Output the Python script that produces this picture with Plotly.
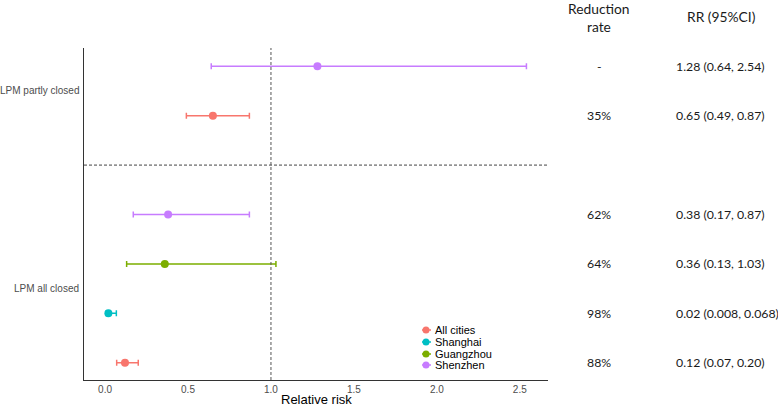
import plotly.graph_objects as go

cities = ["All cities", "Shanghai", "Guangzhou", "Shenzhen"]
colors = ["#F8766D", "#00BFC4", "#7CAE00", "#C77CFF"]

# rows: (city, y-position, rr, lo, hi, reduction)
row_city = ["Shenzhen", "All cities", "Shenzhen", "Guangzhou", "Shanghai", "All cities"]
row_y = [7, 6, 4, 3, 2, 1]
rr = [1.28, 0.65, 0.38, 0.36, 0.02, 0.12]
lo = [0.64, 0.49, 0.17, 0.13, 0.008, 0.07]
hi = [2.54, 0.87, 0.87, 1.03, 0.068, 0.20]
reduction = ["-", "35%", "62%", "64%", "98%", "88%"]
rr_text = ["1.28 (0.64, 2.54)", "0.65 (0.49, 0.87)", "0.38 (0.17, 0.87)",
           "0.36 (0.13, 1.03)", "0.02 (0.008, 0.068)", "0.12 (0.07, 0.20)"]
group_labels = ["LPM partly closed", "LPM all closed"]
group_y = [6.5, 2.5]
sep_y = 5
ref_x = 1.0
x_ticks = [0.0, 0.5, 1.0, 1.5, 2.0, 2.5]
x_tick_text = ["0.0", "0.5", "1.0", "1.5", "2.0", "2.5"]

# page layout (in page pixels); body margin removed by post_script
W, H = 778, 407
PL, PR, PT, PB = 84, 548, 48, 380   # plot area edges on the page
L, T = PL, PT
R = W - PR
B = H - PB
pw = W - L - R
ph = H - T - B

def px(x):
    return (x - PL) / pw

def py(y):
    return (PB - y) / ph

fig = go.Figure()
for c, col in zip(cities, colors):
    idx = [i for i, rc in enumerate(row_city) if rc == c]
    fig.add_trace(go.Scatter(
        x=[rr[i] for i in idx], y=[row_y[i] for i in idx],
        mode="markers", name=c, showlegend=False,
        marker=dict(color=col, size=8),
        error_x=dict(type="data", symmetric=False,
                     array=[hi[i] - rr[i] for i in idx],
                     arrayminus=[rr[i] - lo[i] for i in idx],
                     color=col, thickness=1.5, width=3),
    ))

# legend (drawn manually to get ggplot-like compact spacing)
leg_y = [330, 342, 354, 365]
for c, col, ly in zip(cities, colors, leg_y):
    fig.add_trace(go.Scatter(
        x=[px(426)], y=[py(ly)], xaxis="x2", yaxis="y2", mode="markers",
        marker=dict(color=col, size=7), showlegend=False, hoverinfo="skip"))
    fig.add_shape(type="line", xref="paper", yref="paper", x0=px(422), x1=px(431),
                  y0=py(ly), y1=py(ly), line=dict(color=col, width=1.5))

fig.add_shape(type="line", xref="x", yref="paper", x0=ref_x, x1=ref_x, y0=0, y1=1,
              line=dict(color="#555555", width=1, dash="3px,2px"))
fig.add_shape(type="line", xref="paper", yref="y", x0=0, x1=1, y0=sep_y, y1=sep_y,
              line=dict(color="#444444", width=1, dash="3px,2px"))

gfont = dict(family="Liberation Sans, Arial", size=10, color="#4D4D4D")
ann = []
for lab, gy in zip(group_labels, group_y):
    ann.append(dict(text=lab, x=px(81), xref="paper", y=gy, yref="y",
                    xanchor="right", yanchor="middle", showarrow=False, font=gfont))
ann.append(dict(text="Relative risk", x=0.5, xref="paper", y=py(399), yref="paper",
                xanchor="center", yanchor="middle", showarrow=False,
                font=dict(family="Liberation Sans, Arial", size=13, color="black")))
for c, ly in zip(cities, leg_y):
    ann.append(dict(text=c, x=px(433), xref="paper", y=py(ly), yref="paper",
                    xanchor="left", yanchor="middle", showarrow=False,
                    font=dict(family="Liberation Sans, Arial", size=11, color="black")))

hfont = dict(family="Lato, Open Sans, sans-serif", size=13.8, color="#1a1a1a")
tfont = dict(family="Lato, Open Sans, sans-serif", size=12.3, color="#1a1a1a")
ann.append(dict(text="Reduction", x=px(599), xref="paper", y=py(8), yref="paper",
                xanchor="center", yanchor="middle", showarrow=False, font=hfont))
ann.append(dict(text="rate", x=px(599), xref="paper", y=py(26), yref="paper",
                xanchor="center", yanchor="middle", showarrow=False, font=hfont))
ann.append(dict(text="RR (95%CI)", x=px(721), xref="paper", y=py(17), yref="paper",
                xanchor="center", yanchor="middle", showarrow=False, font=hfont))
for r, ry, rt in zip(reduction, row_y, rr_text):
    ann.append(dict(text=r, x=px(599), xref="paper", y=ry, yref="y",
                    xanchor="center", yanchor="middle", showarrow=False, font=tfont))
    ann.append(dict(text=rt, x=px(674), xref="paper", y=ry, yref="y",
                    xanchor="left", yanchor="middle", showarrow=False, font=tfont))
fig.update_layout(annotations=ann)

fig.update_layout(
    width=W, height=H,
    margin=dict(l=L, r=R, t=T, b=B, autoexpand=False),
    plot_bgcolor="white", paper_bgcolor="white",
    showlegend=False,
    xaxis=dict(range=[-0.127, 2.67], tickvals=x_ticks, ticktext=x_tick_text,
               showgrid=False, zeroline=False, showline=True, linecolor="#333333", linewidth=1,
               ticks="", automargin=False,
               tickfont=dict(family="Liberation Sans, Arial", size=10, color="#4D4D4D")),
    yaxis=dict(range=[0.65, 7.37], showticklabels=False, showgrid=False, zeroline=False,
               showline=True, linecolor="#333333", linewidth=1, ticks="", automargin=False),
    xaxis2=dict(range=[0, 1], overlaying="x", visible=False, fixedrange=True),
    yaxis2=dict(range=[0, 1], overlaying="y", visible=False, fixedrange=True),
)

fig.write_html("out.html", config={"displayModeBar": False},
               post_script="document.body.style.margin='0px';")
